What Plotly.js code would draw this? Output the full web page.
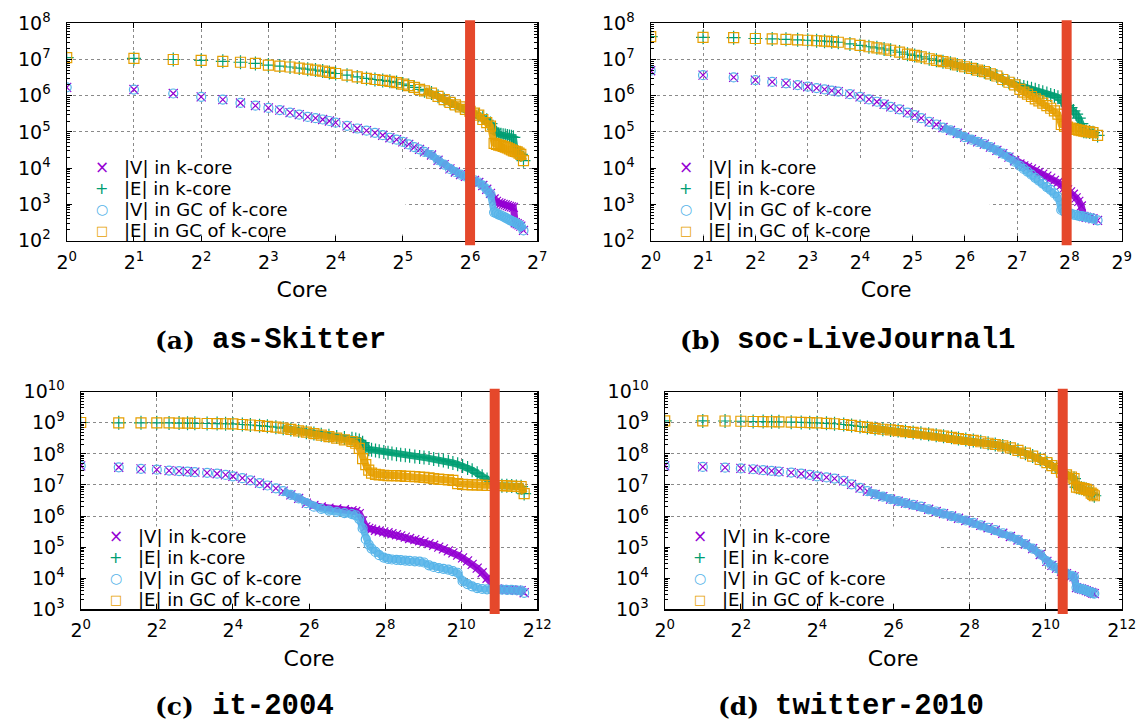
<!DOCTYPE html>
<html><head><meta charset="utf-8">
<script src="https://cdn.plot.ly/plotly-3.0.1.min.js"></script>
<style>html,body{margin:0;padding:0;background:#fff;}#chart{width:1142px;height:723px;}</style>
</head><body><div id="chart"></div>
<script>
// ---------- data ----------
const seriesNames = ['|V| in k-core', '|E| in k-core', '|V| in GC of k-core', '|E| in GC of k-core'];
const panelLetters = ['(a)', '(b)', '(c)', '(d)'];
const panelNames = ['as-Skitter', 'soc-LiveJournal1', 'it-2004', 'twitter-2010'];
const cutoffs = [64, 247, 1885, 1400];

// (a) as-Skitter
const coreA = [1,2,3,4,5,6,7,8,9,10,11,12,13,14,15,16,18,20,22,24,26,28,30,32,34,36,38,40,43,46,49,52,55,58,61,64,67,70,73,76,79,82,84,86,88,90,92,94,96,98,100,102,104,106,108,111];
const vkA = [1.7e6,1.48e6,1.15e6,9.3e5,7.8e5,6.3e5,5.3e5,4.6e5,4.0e5,3.4e5,3.0e5,2.6e5,2.4e5,2.2e5,2.0e5,1.8e5,1.47e5,1.24e5,1.08e5,9.4e4,8.1e4,6.9e4,6.1e4,5.3e4,4.5e4,3.8e4,3.3e4,2.8e4,2.3e4,1.65e4,1.25e4,9.5e3,7.8e3,6.6e3,5.9e3,5.3e3,4.6e3,4.0e3,3.3e3,2.6e3,2.0e3,1.4e3,1.2e3,1.1e3,1.05e3,1.0e3,960,920,880,850,820,310,290,270,250,190];
const ekA = [1.12e7,1.07e7,1.0e7,9.4e6,8.9e6,8.4e6,7.8e6,7.0e6,6.6e6,6.2e6,5.8e6,5.4e6,5.1e6,4.8e6,4.4e6,4.1e6,3.7e6,3.3e6,3.0e6,2.8e6,2.65e6,2.5e6,2.3e6,2.1e6,1.9e6,1.7e6,1.5e6,1.36e6,1.18e6,9.6e5,7.8e5,6.5e5,5.6e5,4.9e5,4.2e5,3.7e5,3.3e5,2.9e5,2.5e5,2.1e5,1.7e5,1.2e5,9.2e4,8.6e4,8.3e4,8.1e4,7.9e4,7.7e4,7.5e4,7.3e4,7.1e4,2.9e4,2.8e4,2.6e4,2.4e4,1.6e4];
const vgcA = [1.7e6,1.48e6,1.15e6,9.3e5,7.8e5,6.3e5,5.3e5,4.6e5,4.0e5,3.4e5,3.0e5,2.6e5,2.4e5,2.2e5,2.0e5,1.8e5,1.47e5,1.24e5,1.08e5,9.4e4,8.1e4,6.9e4,6.1e4,5.3e4,4.5e4,3.8e4,3.3e4,2.8e4,2.3e4,1.65e4,1.25e4,9.5e3,7.8e3,6.6e3,5.9e3,5.3e3,4.6e3,4.0e3,3.3e3,2.6e3,1.9e3,600,560,520,490,460,430,400,370,350,330,310,290,270,250,190];
const egcA = [1.12e7,1.07e7,1.0e7,9.4e6,8.9e6,8.4e6,7.8e6,7.0e6,6.6e6,6.2e6,5.8e6,5.4e6,5.1e6,4.8e6,4.4e6,4.1e6,3.7e6,3.3e6,3.0e6,2.8e6,2.65e6,2.5e6,2.3e6,2.1e6,1.9e6,1.7e6,1.5e6,1.36e6,1.18e6,9.6e5,7.8e5,6.5e5,5.6e5,4.9e5,4.2e5,3.7e5,3.3e5,2.9e5,2.2e5,1.8e5,1.45e5,4.8e4,4.5e4,4.3e4,4.2e4,4.0e4,3.8e4,3.6e4,3.4e4,3.2e4,3.0e4,2.9e4,2.8e4,2.6e4,2.4e4,1.6e4];

// (b) soc-LiveJournal1
const coreB = [1,2,3,4,5,6,7,8,9,10,11,12,14,16,18,20,22,24,27,30,33,36,40,44,48,53,58,64,70,76,83,90,98,106,115,124,133,140,147,155,163,171,180,190,200,210,220,230,240,250,260,270,280,290,300,310,320,335,350,372];
const vkB = [4.9e6,3.7e6,3.2e6,2.7e6,2.4e6,2.2e6,1.96e6,1.77e6,1.62e6,1.49e6,1.38e6,1.29e6,1.1e6,9.3e5,7.9e5,6.8e5,5.8e5,4.9e5,4.2e5,3.4e5,2.9e5,2.4e5,1.9e5,1.6e5,1.32e5,1.1e5,9.2e4,7.2e4,6.1e4,5.3e4,4.6e4,3.8e4,3.1e4,2.5e4,2.0e4,1.6e4,1.3e4,1.15e4,1.05e4,9.5e3,8.5e3,7.6e3,6.8e3,6.0e3,5.3e3,4.6e3,4.0e3,3.4e3,2.9e3,2.5e3,2.2e3,1.9e3,1.5e3,1.2e3,900,460,440,420,400,360];
const ekB = [4.3e7,4.1e7,4.0e7,3.8e7,3.7e7,3.6e7,3.5e7,3.4e7,3.3e7,3.2e7,3.1e7,3.0e7,2.7e7,2.45e7,2.25e7,2.1e7,1.95e7,1.8e7,1.6e7,1.4e7,1.3e7,1.18e7,1.05e7,9.5e6,8.7e6,7.9e6,7.1e6,6.3e6,5.7e6,5.1e6,4.6e6,4.0e6,3.5e6,2.8e6,2.35e6,2.0e6,1.85e6,1.75e6,1.65e6,1.55e6,1.45e6,1.35e6,1.25e6,1.15e6,1.05e6,9.8e5,9.0e5,7.5e5,6.2e5,5.4e5,4.7e5,3.8e5,3.1e5,2.4e5,1.7e5,1.05e5,1.02e5,1.0e5,9.5e4,8.0e4];
const vgcB = [4.9e6,3.7e6,3.2e6,2.7e6,2.4e6,2.2e6,1.96e6,1.77e6,1.62e6,1.49e6,1.38e6,1.29e6,1.1e6,9.3e5,7.9e5,6.8e5,5.8e5,4.9e5,4.2e5,3.4e5,2.9e5,2.4e5,1.9e5,1.6e5,1.32e5,1.1e5,9.2e4,7.2e4,6.1e4,5.3e4,4.6e4,3.8e4,3.1e4,2.5e4,2.0e4,1.5e4,1.15e4,9.5e3,8.0e3,6.6e3,5.4e3,4.5e3,3.7e3,3.0e3,2.5e3,2.0e3,1.6e3,700,620,580,550,520,500,480,470,460,440,420,400,360];
const egcB = [4.3e7,4.1e7,4.0e7,3.8e7,3.7e7,3.6e7,3.5e7,3.4e7,3.3e7,3.2e7,3.1e7,3.0e7,2.7e7,2.45e7,2.25e7,2.1e7,1.95e7,1.8e7,1.6e7,1.4e7,1.3e7,1.18e7,1.05e7,9.5e6,8.7e6,7.9e6,7.1e6,6.3e6,5.7e6,5.1e6,4.6e6,4.0e6,3.5e6,2.8e6,2.35e6,2.0e6,1.5e6,1.25e6,1.1e6,9.5e5,8.2e5,7.2e5,6.2e5,5.3e5,4.5e5,3.8e5,3.1e5,1.6e5,1.45e5,1.35e5,1.28e5,1.22e5,1.17e5,1.12e5,1.08e5,1.05e5,1.02e5,1.0e5,9.5e4,8.0e4];

// (c) it-2004
const coreC = [1,2,3,4,5,6,7,8,10,12,14,16,19,22,26,30,35,40,46,53,61,70,80,92,106,122,140,150,160,170,180,190,200,215,230,250,270,290,315,340,370,400,440,480,520,570,620,680,740,810,880,960,1050,1150,1250,1370,1500,1640,1800,1970,2150,2350,2570,2800,3050,3224];
const vkC = [4.1e7,3.7e7,3.3e7,3.1e7,2.9e7,2.8e7,2.7e7,2.6e7,2.45e7,2.3e7,2.1e7,1.9e7,1.65e7,1.4e7,1.15e7,9.6e6,7.8e6,6.3e6,4.8e6,3.7e6,2.6e6,2.2e6,1.95e6,1.8e6,1.7e6,1.6e6,1.5e6,1.4e6,1.2e6,7.0e5,4.5e5,4.0e5,3.8e5,3.5e5,3.3e5,3.1e5,2.9e5,2.7e5,2.5e5,2.3e5,2.1e5,1.9e5,1.75e5,1.6e5,1.45e5,1.3e5,1.15e5,1.0e5,8.8e4,7.6e4,6.5e4,5.5e4,4.5e4,3.6e4,2.8e4,2.1e4,1.5e4,1.0e4,7.0e3,4.5e3,4.4e3,4.3e3,4.2e3,4.1e3,4.0e3,3.4e3];
const ekC = [1.02e9,1.0e9,1.0e9,1.0e9,9.9e8,9.8e8,9.7e8,9.6e8,9.5e8,9.4e8,9.3e8,9.2e8,8.8e8,8.5e8,8.1e8,7.7e8,7.2e8,6.7e8,6.1e8,5.5e8,5.0e8,4.5e8,4.1e8,3.8e8,3.5e8,3.25e8,3.05e8,2.9e8,2.7e8,2.3e8,1.6e8,1.4e8,1.35e8,1.28e8,1.22e8,1.15e8,1.08e8,1.02e8,9.8e7,9.4e7,9.0e7,8.7e7,8.3e7,8.0e7,7.7e7,7.3e7,6.9e7,6.5e7,6.1e7,5.6e7,5.1e7,4.6e7,4.1e7,3.5e7,3.0e7,2.4e7,1.9e7,1.5e7,1.1e7,9.6e6,9.5e6,9.4e6,9.2e6,9.0e6,8.8e6,5.3e6];
const vgcC = [4.1e7,3.7e7,3.3e7,3.1e7,2.9e7,2.8e7,2.7e7,2.6e7,2.45e7,2.3e7,2.1e7,1.9e7,1.65e7,1.4e7,1.15e7,9.6e6,7.8e6,6.3e6,4.8e6,3.7e6,2.6e6,2.0e6,1.7e6,1.5e6,1.35e6,1.25e6,1.15e6,1.05e6,8.0e5,4.0e5,1.8e5,1.2e5,9.0e4,7.0e4,5.5e4,4.6e4,4.2e4,4.0e4,3.9e4,3.8e4,3.7e4,3.6e4,3.5e4,3.4e4,3.2e4,2.6e4,2.3e4,2.1e4,2.0e4,1.9e4,1.7e4,1.5e4,8.0e3,6.5e3,5.5e3,4.8e3,4.5e3,4.4e3,4.3e3,4.3e3,4.3e3,4.2e3,4.2e3,4.1e3,4.0e3,3.4e3];
const egcC = [1.02e9,1.0e9,1.0e9,1.0e9,9.9e8,9.8e8,9.7e8,9.6e8,9.5e8,9.4e8,9.3e8,9.2e8,8.8e8,8.5e8,8.1e8,7.7e8,7.2e8,6.7e8,6.1e8,5.5e8,5.0e8,4.5e8,4.0e8,3.6e8,3.2e8,2.8e8,2.5e8,2.2e8,1.5e8,7.0e7,4.5e7,3.0e7,2.4e7,2.2e7,2.1e7,2.05e7,2.0e7,2.0e7,2.0e7,1.95e7,1.9e7,1.9e7,1.85e7,1.8e7,1.75e7,1.7e7,1.6e7,1.55e7,1.5e7,1.45e7,1.4e7,1.1e7,1.05e7,1.02e7,1.0e7,1.0e7,9.8e6,9.7e6,9.6e6,9.6e6,9.5e6,9.4e6,9.2e6,9.0e6,8.8e6,5.3e6];

// (d) twitter-2010
const coreD = [1,2,3,4,5,6,7,8,10,12,14,16,19,22,26,30,35,40,46,53,61,70,80,92,106,122,140,160,185,210,240,275,315,360,410,470,540,620,710,810,930,1050,1150,1250,1370,1500,1640,1720,1800,1890,1970,2060,2150,2250,2350,2420,2488];
const vkD = [4.1e7,3.8e7,3.6e7,3.4e7,3.2e7,3.0e7,2.85e7,2.7e7,2.5e7,2.3e7,2.1e7,1.9e7,1.75e7,1.6e7,1.35e7,1.05e7,8.0e6,6.3e6,5.0e6,4.2e6,3.5e6,3.0e6,2.6e6,2.3e6,2.0e6,1.65e6,1.4e6,1.2e6,1.0e6,8.5e5,7.2e5,6.0e5,5.0e5,4.2e5,3.5e5,2.8e5,2.2e5,1.7e5,1.25e5,9.0e4,5.8e4,3.5e4,2.6e4,2.1e4,1.7e4,1.4e4,1.2e4,1.1e4,5.0e3,4.7e3,4.5e3,4.3e3,4.0e3,3.7e3,3.5e3,3.3e3,3.2e3];
const ekD = [1.15e9,1.15e9,1.14e9,1.12e9,1.1e9,1.09e9,1.08e9,1.07e9,1.05e9,1.03e9,1.01e9,1.0e9,9.6e8,9.3e8,8.8e8,8.2e8,7.6e8,7.1e8,6.6e8,6.2e8,5.9e8,5.6e8,5.2e8,4.9e8,4.6e8,4.3e8,4.0e8,3.7e8,3.4e8,3.1e8,2.9e8,2.7e8,2.45e8,2.2e8,2.0e8,1.8e8,1.55e8,1.3e8,1.05e8,8.5e7,6.7e7,5.2e7,4.2e7,3.4e7,2.6e7,2.1e7,1.8e7,1.6e7,8.5e6,8.2e6,7.9e6,7.6e6,7.2e6,6.5e6,5.5e6,5.0e6,4.5e6];
const vgcD = [4.1e7,3.8e7,3.6e7,3.4e7,3.2e7,3.0e7,2.85e7,2.7e7,2.5e7,2.3e7,2.1e7,1.9e7,1.75e7,1.6e7,1.35e7,1.05e7,8.0e6,6.3e6,5.0e6,4.2e6,3.5e6,3.0e6,2.6e6,2.3e6,2.0e6,1.65e6,1.4e6,1.2e6,1.0e6,8.5e5,7.2e5,6.0e5,5.0e5,4.2e5,3.5e5,2.8e5,2.2e5,1.7e5,1.25e5,9.0e4,5.8e4,3.5e4,2.6e4,2.1e4,1.7e4,1.4e4,1.2e4,1.1e4,5.0e3,4.7e3,4.5e3,4.3e3,4.0e3,3.7e3,3.5e3,3.3e3,3.2e3];
const egcD = [1.15e9,1.15e9,1.14e9,1.12e9,1.1e9,1.09e9,1.08e9,1.07e9,1.05e9,1.03e9,1.01e9,1.0e9,9.6e8,9.3e8,8.8e8,8.2e8,7.6e8,7.1e8,6.6e8,6.2e8,5.9e8,5.6e8,5.2e8,4.9e8,4.6e8,4.3e8,4.0e8,3.7e8,3.4e8,3.1e8,2.9e8,2.7e8,2.45e8,2.2e8,2.0e8,1.8e8,1.55e8,1.3e8,1.05e8,8.5e7,6.7e7,5.2e7,4.2e7,3.4e7,2.6e7,2.1e7,1.8e7,1.6e7,8.5e6,8.2e6,7.9e6,7.6e6,7.2e6,6.5e6,5.5e6,5.0e6,4.5e6];

// tick exponents
const xTickExpA = [0,1,2,3,4,5,6,7];
const xTickExpB = [0,1,2,3,4,5,6,7,8,9];
const xTickExpCD = [0,2,4,6,8,10,12];
const yTickExpAB = [2,3,4,5,6,7,8];
const yTickExpCD = [3,4,5,6,7,8,9,10];

// ---------- presentation ----------
const W = 1142, H = 723;
const panels = [
  {core: coreA, s: [vkA, ekA, vgcA, egcA], xExp: xTickExpA, xMax: 7, yExp: yTickExpAB, box: [66.7, 537.3, 23.3, 240.5], dense: 40, legW: 0.72},
  {core: coreB, s: [vkB, ekB, vgcB, egcB], xExp: xTickExpB, xMax: 9, yExp: yTickExpAB, box: [650.7, 1121.7, 23.3, 240.5], dense: 48, legW: 0.72},
  {core: coreC, s: [vkC, ekC, vgcC, egcC], xExp: xTickExpCD, xMax: 12, yExp: yTickExpCD, box: [80.7, 537.3, 391.7, 609.3], dense: 40, legW: 0.6},
  {core: coreD, s: [vkD, ekD, vgcD, egcD], xExp: xTickExpCD, xMax: 12, yExp: yTickExpCD, box: [664.7, 1121.7, 391.7, 609.3], dense: 40, legW: 0.6}
];
const styles = [
  {symbol: 'x-thin-open', color: '#9400D3', size: 9},
  {symbol: 'cross-thin-open', color: '#009E73', size: 10},
  {symbol: 'circle-open', color: '#56B4E9', size: 9},
  {symbol: 'square-open', color: '#E69F00', size: 10}
];
const legSym = ['\u00D7', '+', '\u25CB', '\u25A1'];
const legSymSize = [17, 16, 14, 13];
const legDy = [73, 52, 31, 10];
const FONT = 'DejaVu Sans';

const traces = [];
const layout = {
  width: W, height: H, margin: {l: 0, r: 0, t: 0, b: 0},
  paper_bgcolor: '#fff', plot_bgcolor: '#fff', showlegend: false,
  shapes: [], annotations: []
};

panels.forEach((p, i) => {
  const s = i === 0 ? '' : String(i + 1);
  const xa = 'x' + s, ya = 'y' + s;
  const d0 = p.core.findIndex(k => k >= p.dense);
  styles.forEach((st, j) => {
    traces.push({
      x: p.core.slice(d0), y: p.s[j].slice(d0), xaxis: xa, yaxis: ya,
      type: 'scatter', mode: 'lines', hoverinfo: 'skip',
      line: {color: st.color, width: 7}, opacity: 0.9
    });
    traces.push({
      x: p.core, y: p.s[j], xaxis: xa, yaxis: ya, name: seriesNames[j],
      type: 'scatter', mode: 'markers',
      marker: {symbol: st.symbol, size: st.size, color: st.color, line: {color: st.color, width: 1.2}}
    });
  });
  const [l, r, t, b] = p.box;
  const yMin = p.yExp[0], yMax = p.yExp[p.yExp.length - 1];
  const minorVals = [];
  for (let e = yMin; e < yMax; e++) for (let m = 2; m <= 9; m++) minorVals.push(m * Math.pow(10, e));
  const common = {
    showline: true, linecolor: '#000', linewidth: 1.2, mirror: 'allticks',
    ticks: 'inside', ticklen: 5, tickwidth: 1, tickcolor: '#000',
    showgrid: true, gridcolor: '#8a8a8a', griddash: 'dot', gridwidth: 1,
    zeroline: false, tickmode: 'array', tickfont: {family: FONT, size: 19, color: '#000'}
  };
  layout['xaxis' + s] = Object.assign({}, common, {
    domain: [l / W, r / W], anchor: ya, type: 'log',
    range: [0, Math.log10(Math.pow(2, p.xMax))],
    tickvals: p.xExp.map(e => Math.pow(2, e)),
    ticktext: p.xExp.map(e => '2<sup>' + e + '</sup>'),
    ticklabelstandoff: 4,
    title: {text: 'Core', font: {family: FONT, size: 22, color: '#000'}, standoff: 10}
  });
  layout['yaxis' + s] = Object.assign({}, common, {
    domain: [1 - b / H, 1 - t / H], anchor: xa, type: 'log',
    range: [yMin, yMax],
    tickvals: p.yExp.map(e => Math.pow(10, e)),
    ticktext: p.yExp.map(e => '10<sup>' + e + '</sup>'),
    ticklabelstandoff: 11,
    minor: {tickmode: 'array', tickvals: minorVals, ticks: 'inside', ticklen: 3, tickcolor: '#000', showgrid: false}
  });
  // legend background (hides the grid under the key, like the original)
  layout.shapes.push({type: 'rect', xref: xa + ' domain', yref: ya + ' domain', x0: 0.013, x1: p.legW, y0: 0.028, y1: 0.38,
    fillcolor: '#fff', line: {width: 0}, layer: 'above'});
  // red cut line
  layout.shapes.push({type: 'line', xref: xa, yref: ya + ' domain', x0: cutoffs[i], x1: cutoffs[i], y0: -0.022, y1: 1.014,
    line: {color: '#E5482B', width: 10}, layer: 'above'});
  // legend entries
  for (let j = 0; j < 4; j++) {
    layout.annotations.push({xref: xa + ' domain', yref: ya + ' domain', x: 0, y: 0, xanchor: 'center', yanchor: 'middle',
      xshift: 35, yshift: legDy[j], showarrow: false, text: legSym[j],
      font: {family: FONT, size: legSymSize[j], color: styles[j].color}});
    layout.annotations.push({xref: xa + ' domain', yref: ya + ' domain', x: 0, y: 0, xanchor: 'left', yanchor: 'middle',
      xshift: 55, yshift: legDy[j], showarrow: false, text: seriesNames[j],
      font: {family: FONT, size: 18, color: '#000'}});
  }
});

// captions
const capPos = [[153, 340], [678, 340], [153, 706], [716, 706]];
capPos.forEach((c, i) => {
  layout.annotations.push({xref: 'paper', yref: 'paper', x: c[0] / W, y: 1 - c[1] / H, xanchor: 'left', yanchor: 'middle',
    showarrow: false, text: '<b>' + panelLetters[i] + '</b>', height: 32,
    font: {family: 'DejaVu Serif', size: 25, color: '#000'}});
  layout.annotations.push({xref: 'paper', yref: 'paper', x: (c[0] + 57) / W, y: 1 - c[1] / H, xanchor: 'left', yanchor: 'middle',
    showarrow: false, text: '<b>' + panelNames[i] + '</b>', height: 32,
    font: {family: 'Liberation Mono', size: 29, color: '#000'}});
});

Plotly.newPlot('chart', traces, layout, {staticPlot: true, displayModeBar: false});
</script></body></html>
